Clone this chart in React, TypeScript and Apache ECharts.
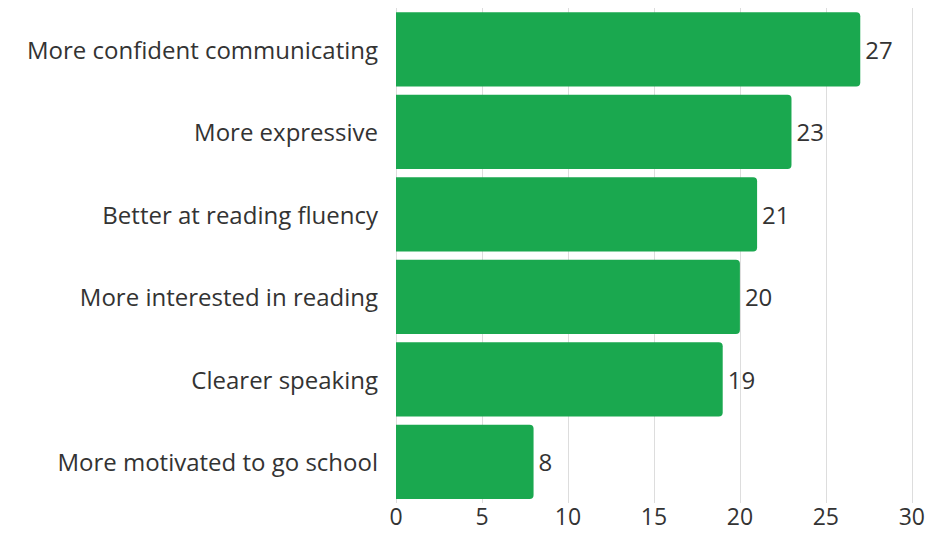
import React, { useEffect, useRef } from "react";
import * as echarts from "echarts";

const categories = [
  "More confident communicating",
  "More expressive",
  "Better at reading fluency",
  "More interested in reading",
  "Clearer speaking",
  "More motivated to go school",
];
const values = [27, 23, 21, 20, 19, 8];
const xTicks = { min: 0, max: 30, interval: 5 };

export default function App() {
  const ref = useRef<HTMLDivElement>(null);
  useEffect(() => {
    if (!ref.current) return;
    const chart = echarts.init(ref.current, null, { renderer: "svg" });
    const font = "'Open Sans', sans-serif";
    chart.setOption({
      animation: false,
      grid: { left: 396, right: 14, top: 8, bottom: 30, containLabel: false },
      xAxis: {
        type: "value",
        min: xTicks.min,
        max: xTicks.max,
        interval: xTicks.interval,
        axisLine: { show: false },
        axisTick: { show: false },
        splitLine: { show: true, lineStyle: { color: "#dddddd", width: 1 } },
        axisLabel: { color: "#333333", fontSize: 23, fontFamily: font, margin: 1, lineHeight: 24 },
      },
      yAxis: {
        type: "category",
        inverse: true,
        data: categories,
        axisLine: { show: false },
        axisTick: { show: false },
        axisLabel: { color: "#333333", fontSize: 24, fontFamily: font, margin: 18 },
      },
      series: [
        {
          type: "bar",
          data: values,
          barCategoryGap: "10%",
          itemStyle: { color: "#1aa84f", borderRadius: [0, 4, 4, 0] },
          label: {
            show: true,
            position: "right",
            distance: 5,
            color: "#333333",
            fontSize: 24,
            fontFamily: font,
          },
        },
      ],
    });
    return () => chart.dispose();
  }, []);
  return (
    <div
      ref={ref}
      style={{ position: "fixed", left: 0, top: 0, width: 928, height: 533, background: "#ffffff" }}
    />
  );
}
